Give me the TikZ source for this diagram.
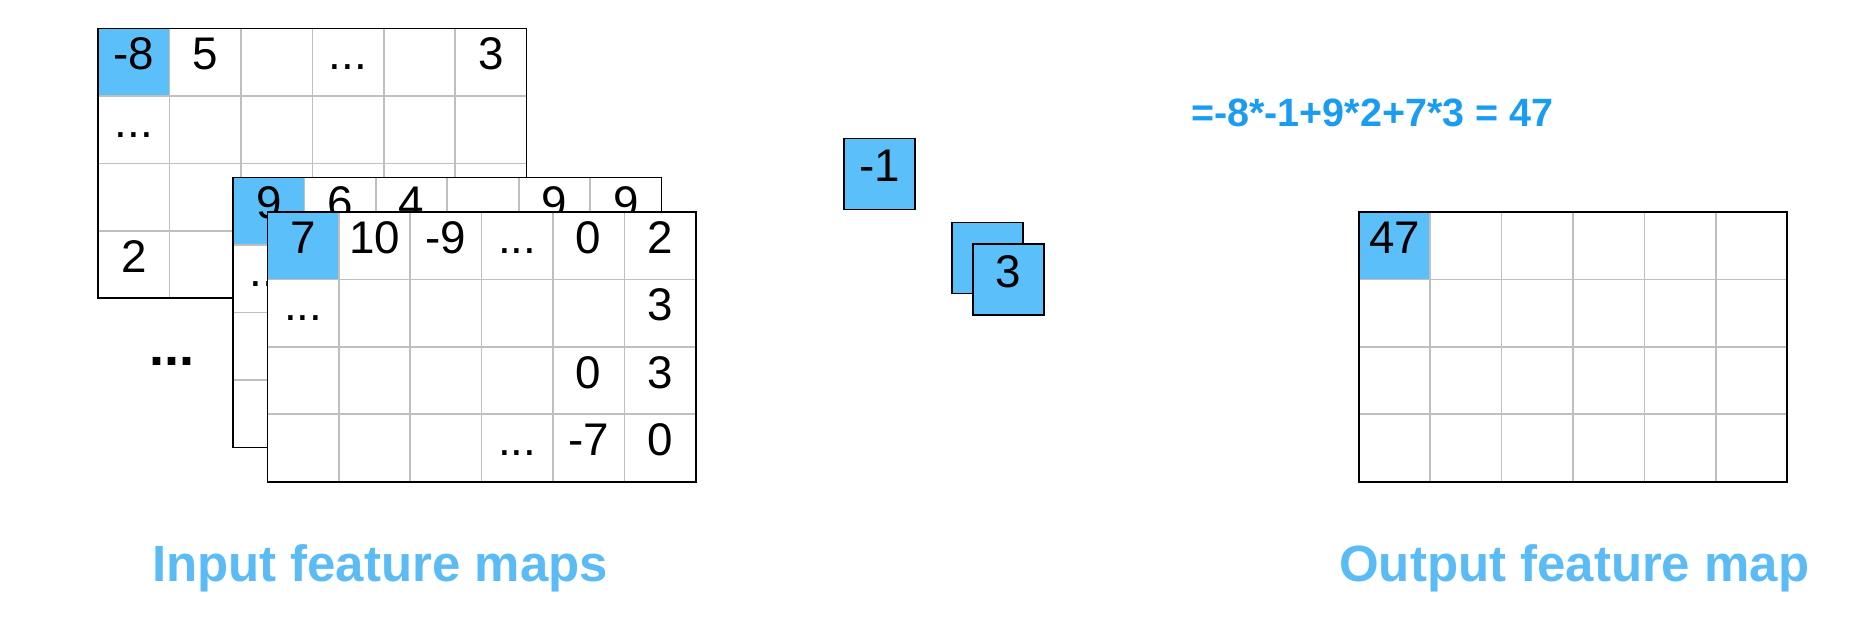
\documentclass[tikz,border=0pt]{standalone}
\usepackage{fontspec}
\setmainfont{Liberation Sans}
\definecolor{cellblue}{HTML}{5BBFFA}
\definecolor{eqblue}{HTML}{1A9CF0}
\definecolor{titleblue}{HTML}{5BBCF5}
\tikzset{
  cell/.style={minimum width=1.206cm, minimum height=1.14cm, inner sep=0pt, text height=1.5ex, text depth=0.1ex, font=\fontsize{22}{22}\selectfont},
  hot/.style={cell, fill=cellblue},
  frame/.style={draw=black, thick},
  title/.style={text=titleblue, font=\bfseries\fontsize{24.5}{25}\selectfont}
}
% one 6x4 map, top-left corner at #1, name prefix #2
\newcommand{\featmap}[2]{%
  \fill[white] (#1) rectangle +(7.236,-4.56);
  \node[hot, anchor=north west] at (#1) {};
  \draw[gray!50, line width=0.8pt, shift={(#1)}] (0,0) grid[xstep=1.206, ystep=1.14] (7.236,-4.56);
  \draw[frame] (#1) rectangle +(7.236,-4.56);
  \foreach \c in {0,...,5} \foreach \r in {0,...,3}
    \coordinate (#2-\r-\c) at ($(#1)+(0.603+\c*1.206,-0.57-\r*1.14)$);
}
\usetikzlibrary{calc}
\begin{document}
\begin{tikzpicture}
\useasboundingbox (0,0) rectangle (31.36,-10.82);
% back map
\featmap{1.66,-0.48}{a}
\node[cell] at (a-0-0) {-8};
\node[cell] at (a-0-1) {5};
\node[cell] at (a-0-3) {...};
\node[cell] at (a-0-5) {3};
\node[cell] at (a-1-0) {...};
\node[cell] at (a-3-0) {2};
% middle map
\featmap{3.94,-3.0}{b}
\node[cell] at (b-0-0) {9};
\node[cell] at (b-0-1) {6};
\node[cell] at (b-0-2) {4};
\node[cell] at (b-0-4) {9};
\node[cell] at (b-0-5) {9};
\node[cell] at (b-1-0) {...};
% front map
\featmap{4.52,-3.58}{c}
\node[cell] at (c-0-0) {7};
\node[cell] at (c-0-1) {10};
\node[cell] at (c-0-2) {-9};
\node[cell] at (c-0-3) {...};
\node[cell] at (c-0-4) {0};
\node[cell] at (c-0-5) {2};
\node[cell] at (c-1-0) {...};
\node[cell] at (c-1-5) {3};
\node[cell] at (c-2-4) {0};
\node[cell] at (c-2-5) {3};
\node[cell] at (c-3-3) {...};
\node[cell] at (c-3-4) {-7};
\node[cell] at (c-3-5) {0};
\node[font=\bfseries\fontsize{26}{26}\selectfont] (more) at (2.9,-6.1) {...};
% kernel
\node[hot, draw, thick, minimum width=1.2cm, minimum height=1.2cm] (k1) at (14.86,-2.94) {-1};
\node[hot, draw, thick, minimum width=1.2cm, minimum height=1.2cm] (k2) at (16.68,-4.36) {};
\node[hot, draw, thick, minimum width=1.2cm, minimum height=1.2cm] (k3) at (17.04,-4.72) {3};
\node[text=eqblue, font=\bfseries\fontsize{19}{19}\selectfont, anchor=west] (eq) at (20.0,-1.9) {=-8*-1+9*2+7*3 = 47};
% output map
\featmap{22.96,-3.58}{o}
\node[cell] at (o-0-0) {47};
\node[title] (tin) at (6.42,-9.6) {Input feature maps};
\node[title] (tout) at (26.6,-9.6) {Output feature map};
\end{tikzpicture}
\end{document}
